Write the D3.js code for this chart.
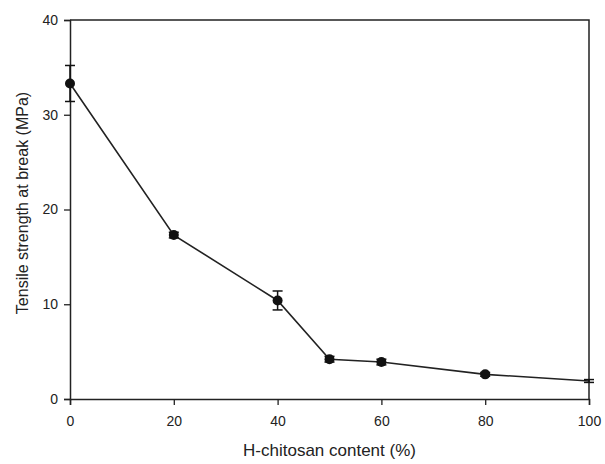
<!DOCTYPE html>
<html>
<head>
<meta charset="utf-8">
<script src="https://cdn.jsdelivr.net/npm/d3@7"></script>
<style>
  body { margin: 0; background: #fff; }
  text { font-family: "Liberation Sans", Arial, sans-serif; fill: #222; }
</style>
</head>
<body>
<script>
// H-chitosan content (%) vs tensile strength at break (MPa)
const content = [0, 20, 40, 50, 60, 80, 100]
const strength = [33.3, 17.3, 10.4, 4.2, 3.9, 2.6, 1.9]
const errors = [1.9, 0.3, 1.0, 0.3, 0.3, 0.2, 0.15]
const showDot = [true, true, true, true, true, true, false]
const xTicks = [0, 20, 40, 60, 80, 100]
const yTicks = [0, 10, 20, 30, 40]

const W = 605, H = 464
const margin = {top: 20, right: 16, bottom: 65, left: 70}

const svg = d3.select('body').append('svg')
  .attr('width', W)
  .attr('height', H)

const x = d3.scaleLinear().domain([0, 100]).range([margin.left, W - margin.right])
const y = d3.scaleLinear().domain([0, 40]).range([H - margin.bottom, margin.top])

// frame (top + right)
svg.append('path')
  .attr('d', `M${x(0)},${y(40)}H${x(100)}V${y(0)}`)
  .attr('fill', 'none')
  .attr('stroke', '#222')
  .attr('stroke-width', 1.5)

const xAxis = svg.append('g')
  .attr('transform', `translate(0,${y(0)})`)
  .call(d3.axisBottom(x).tickValues(xTicks).tickSize(6).tickPadding(11))
const yAxis = svg.append('g')
  .attr('transform', `translate(${x(0)},0)`)
  .call(d3.axisLeft(y).tickValues(yTicks).tickSize(6).tickPadding(6))

for (const ax of [xAxis, yAxis]) {
  ax.select('.domain').attr('stroke', '#222').attr('stroke-width', 1.5)
  ax.selectAll('.tick line').attr('stroke', '#222').attr('stroke-width', 1.3)
  ax.selectAll('.tick text').attr('font-size', 14).style('fill', '#222')
}

const pts = content.map((c, i) => ({x: c, y: strength[i], e: errors[i], dot: showDot[i]}))

// connecting line
svg.append('path')
  .datum(pts)
  .attr('fill', 'none')
  .attr('stroke', '#222')
  .attr('stroke-width', 1.6)
  .attr('d', d3.line().x(d => x(d.x)).y(d => y(d.y)))

// error bars
const eb = svg.append('g').selectAll('g').data(pts).join('g')
  .attr('stroke', '#111').attr('stroke-width', 1.5)
eb.append('line')
  .attr('x1', d => x(d.x)).attr('x2', d => x(d.x))
  .attr('y1', d => y(d.y + d.e)).attr('y2', d => y(d.y - d.e))
eb.append('line')
  .attr('x1', d => x(d.x) - 5).attr('x2', d => x(d.x) + 5)
  .attr('y1', d => y(d.y + d.e)).attr('y2', d => y(d.y + d.e))
eb.append('line')
  .attr('x1', d => x(d.x) - 5).attr('x2', d => x(d.x) + 5)
  .attr('y1', d => y(d.y - d.e)).attr('y2', d => y(d.y - d.e))

// markers
svg.append('g').selectAll('circle')
  .data(pts.filter(d => d.dot))
  .join('circle')
  .attr('cx', d => x(d.x))
  .attr('cy', d => y(d.y))
  .attr('r', 5)
  .attr('fill', '#111')

// axis titles
svg.append('text')
  .attr('x', (x(0) + x(100)) / 2)
  .attr('y', 456)
  .attr('text-anchor', 'middle')
  .attr('font-size', 17)
  .text('H-chitosan content (%)')

svg.append('text')
  .attr('transform', `translate(28,203) rotate(-90)`)
  .attr('text-anchor', 'middle')
  .attr('font-size', 16)
  .text('Tensile strength at break (MPa)')
</script>
</body>
</html>
